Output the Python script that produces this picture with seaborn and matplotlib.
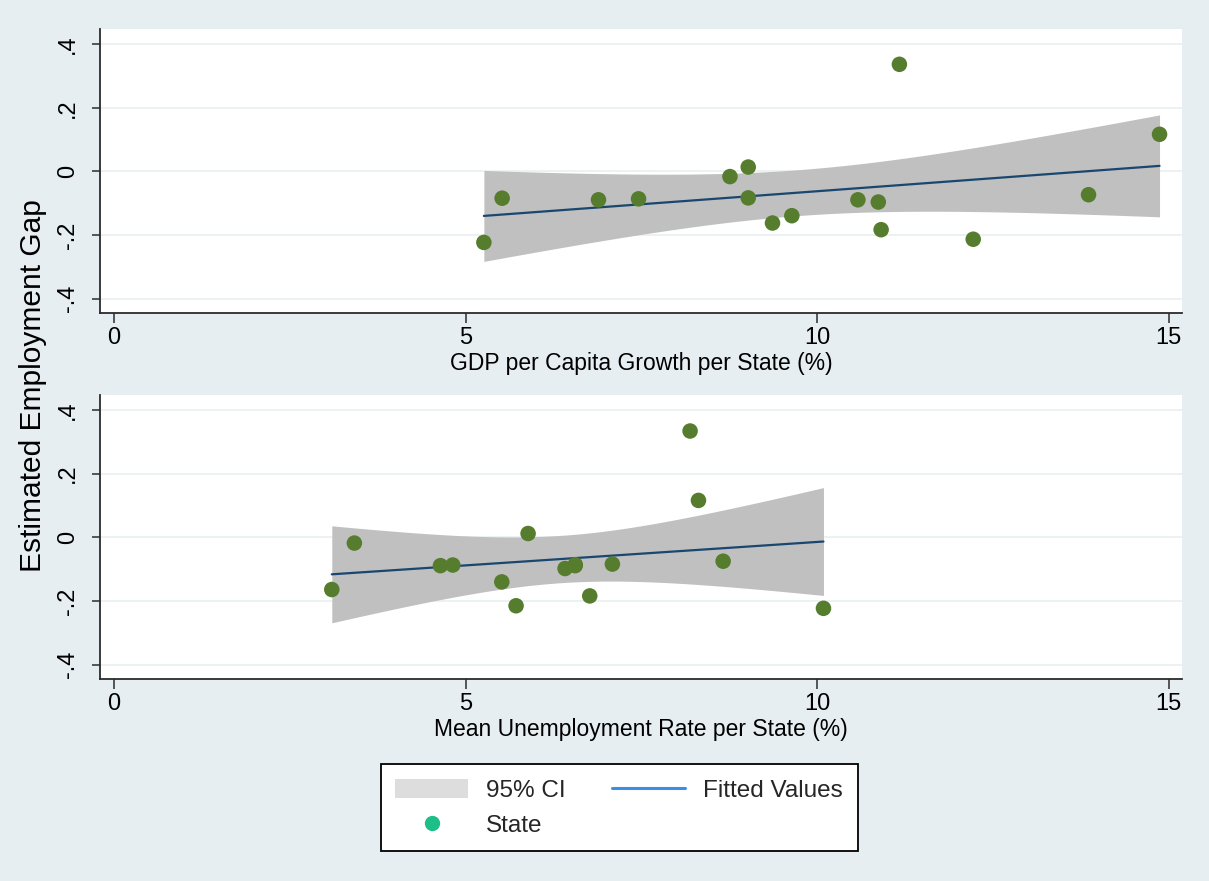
import numpy as np
import pandas as pd
import matplotlib
matplotlib.use("Agg")
import matplotlib.pyplot as plt
import seaborn as sns
from matplotlib.patches import Patch
from matplotlib.lines import Line2D

# ---------------- data ----------------
gdp_growth = [5.26, 5.52, 6.89, 7.46, 8.76, 9.02, 9.02, 9.365, 9.64, 10.58,
              10.87, 10.91, 11.17, 12.22, 13.86, 14.87]
gap_gdp = [-0.223, -0.084, -0.089, -0.086, -0.016, 0.014, -0.083, -0.162,
           -0.139, -0.089, -0.096, -0.183, 0.337, -0.213, -0.073, 0.117]

unemp_rate = [3.097, 3.418, 4.642, 4.818, 5.515, 5.718, 5.889, 6.415, 6.558,
              6.56, 6.766, 7.088, 8.193, 8.312, 8.663, 10.09]
gap_unemp = [-0.164, -0.018, -0.089, -0.087, -0.140, -0.215, 0.012, -0.098,
             -0.089, -0.086, -0.184, -0.084, 0.334, 0.116, -0.075, -0.223]

x_ticks = [0, 5, 10, 15]
x_ticklabels = ["0", "5", "10", "15"]
y_ticks = [-0.4, -0.2, 0, 0.2, 0.4]
y_ticklabels = ["-.4", "-.2", "0", ".2", ".4"]

xlabel_top = "GDP per Capita Growth per State (%)"
xlabel_bottom = "Mean Unemployment Rate per State (%)"
ylabel = "Estimated Employment Gap"
legend_labels = ["95% CI", "State", "Fitted Values"]

# t critical values (two-sided 95%) by residual degrees of freedom
T_CRIT = {13: 2.160, 14: 2.145}

# ---------------- style ----------------
sns.set_theme(style="white")
plt.rcParams["font.family"] = ["Liberation Sans", "DejaVu Sans"]

BG = "#E7EEF1"
GRID = "#E9F0F2"
POINT = "#567D2E"
BAND = "#C0C0C0"
LINE = "#1A476F"
AXC = "#2B2B2B"

fig = plt.figure(figsize=(12.09, 8.81), dpi=100, facecolor=BG)
ax1 = fig.add_axes([0.0827, 0.6447, 0.8950, 0.3220])
ax2 = fig.add_axes([0.0827, 0.2293, 0.8950, 0.3223])


def panel(ax, xs, ys, xlabel):
    df = pd.DataFrame({"x": xs, "y": ys})
    x = df["x"].to_numpy()
    y = df["y"].to_numpy()
    n = len(x)
    b, a = np.polyfit(x, y, 1)
    resid = y - (a + b * x)
    s = np.sqrt(np.sum(resid ** 2) / (n - 2))
    sxx = np.sum((x - x.mean()) ** 2)
    grid = np.linspace(x.min(), x.max(), 300)
    fit = a + b * grid
    se = s * np.sqrt(1.0 / n + (grid - x.mean()) ** 2 / sxx)
    t = T_CRIT[n - 2]
    ax.fill_between(grid, fit - t * se, fit + t * se, color=BAND, lw=0, zorder=1)
    sns.regplot(data=df, x="x", y="y", ax=ax, scatter=False, ci=None,
                truncate=True, line_kws=dict(color=LINE, lw=1.6, zorder=2))
    sns.scatterplot(data=df, x="x", y="y", ax=ax, s=125, color=POINT,
                    edgecolor="none", zorder=3)
    ax.set_facecolor("white")
    ax.set_xlim(-0.2, 15.19)
    ax.set_ylim(-0.445, 0.447)
    ax.set_xticks(x_ticks)
    ax.set_xticklabels(x_ticklabels)
    ax.set_yticks(y_ticks)
    ax.set_yticklabels(y_ticklabels, rotation=90, va="center")
    for yt in y_ticks:
        ax.axhline(yt, color=GRID, lw=1.2, zorder=0)
    for side in ["top", "right"]:
        ax.spines[side].set_visible(False)
    for side in ["left", "bottom"]:
        ax.spines[side].set_visible(True)
        ax.spines[side].set_color(AXC)
        ax.spines[side].set_linewidth(1.3)
    ax.tick_params(axis="x", direction="out", length=7, width=1.1, color=AXC,
                   labelsize=17, pad=3, bottom=True, labelcolor="black")
    ax.tick_params(axis="y", direction="out", length=6, width=1.1, color=AXC,
                   labelsize=17, pad=9, left=True, labelcolor="black")
    ax.set_xlabel(xlabel, fontsize=16.5, labelpad=2, color="black")
    ax.set_ylabel("")


panel(ax1, gdp_growth, gap_gdp, xlabel_top)
panel(ax2, unemp_rate, gap_unemp, xlabel_bottom)

fig.text(0.027, 0.562, ylabel, rotation=90, ha="center", va="center",
         fontsize=21.5, color="black")

handles = [
    Patch(facecolor="#DDDDDD", edgecolor="none"),
    Line2D([], [], marker="o", ls="none", color="#1DBF89", markersize=10),
    Line2D([], [], color="#3A8EE6", lw=2.2),
]
leg = fig.legend(handles, legend_labels, ncol=2, loc="center",
                 bbox_to_anchor=(0.512, 0.083), fontsize=17.5, frameon=True,
                 fancybox=False, framealpha=1, edgecolor="black",
                 handlelength=3.0, handleheight=0.8, handletextpad=0.75,
                 columnspacing=1.9, labelspacing=0.5, borderpad=0.6)
leg.get_frame().set_linewidth(1.3)
leg.get_frame().set_facecolor("white")

fig.savefig("out.png", dpi=100, facecolor=BG)
